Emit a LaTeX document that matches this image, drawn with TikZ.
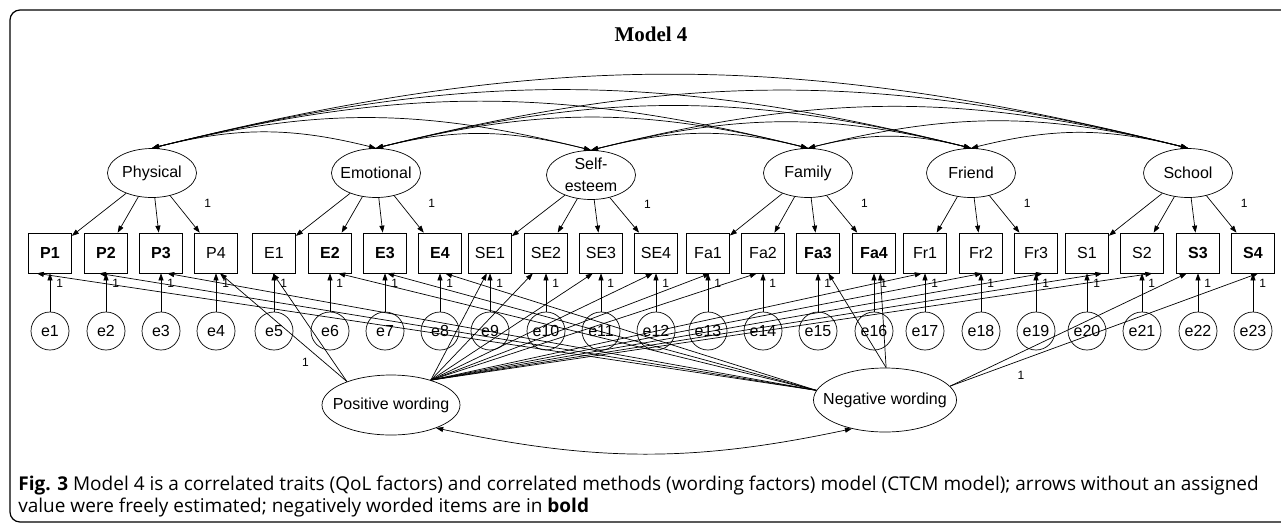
\documentclass[tikz,border=0pt]{standalone}
\usepackage{fontspec}
\setmainfont{Liberation Sans}
\newfontfamily\titlefont{Liberation Serif}
\newfontfamily\capfont{Open Sans}
\usetikzlibrary{arrows.meta, shapes.geometric, positioning}

\begin{document}
\begin{tikzpicture}[
        x=1pt, y=-1pt, line width=0.7pt,
        >={Triangle[length=7pt,width=5pt]},
        font=\fontsize{16}{19}\selectfont,
        latent/.style={ellipse, draw, minimum width=89pt, minimum height=49pt, inner xsep=-8pt, inner ysep=0pt},
        method/.style={ellipse, draw, inner xsep=-12pt, inner ysep=0pt},
        positem/.style={rectangle, draw, minimum width=43pt, minimum height=40pt, inner sep=0pt},
        negitem/.style={positem, font=\fontsize{16}{19}\selectfont\bfseries},
        err/.style={circle, draw, minimum size=38pt, inner sep=0pt},
        lbl/.style={font=\fontsize{12}{12}\selectfont, inner sep=1pt},
        capt/.style={anchor=base west, inner sep=0pt, font=\capfont\fontsize{19}{22}\selectfont},
        ]
        \path[use as bounding box] (0,0) rectangle (1281,525);
        \draw[line width=1.2pt, rounded corners=10pt] (10,10) rectangle (1300,522);

        \node[font=\titlefont\bfseries\fontsize{21}{24}\selectfont] (title) at (651,34) {Model 4};

        % traits
        \node[latent] (phys) at (152,173) {Physical};
        \node[latent] (emo)  at (376,173) {Emotional};
        \node[latent, align=center, font=\fontsize{16}{22}\selectfont] (self) at (591,175) {Self-\\esteem};
        \node[latent] (fam)  at (808,173) {Family};
        \node[latent] (fri)  at (971,173) {Friend};
        \node[latent] (sch)  at (1188,173) {School};

        % items and their errors (1 = negatively worded)
        \foreach \n/\x/\b [count=\i] in {P1/50/1, P2/106/1, P3/161/1, P4/216/0,
                E1/274/0, E2/330/1, E3/385/1, E4/440/1,
                SE1/490/0, SE2/546/0, SE3/601/0, SE4/656/0,
                Fa1/708/0, Fa2/763/0, Fa3/818/1, Fa4/874/1,
                Fr1/925/0, Fr2/981/0, Fr3/1036/0,
                S1/1087/0, S2/1142/0, S3/1198/1, S4/1253/1}{
            \ifnum\b=1 \node[negitem] (\n) at (\x,253) {\n};
            \else \node[positem] (\n) at (\x,253) {\n};
            \fi
            \node[err] (e\i) at (\x,331) {e\i};
            \draw[->] (e\i) -- node[lbl, pos=0.74, right=5pt] {1} (\n);
        }

        % methods
        \node[method, minimum width=138pt, minimum height=60pt] (posw) at (391,405) {Positive wording};
        \node[method, minimum width=143pt, minimum height=64pt] (negw) at (885,400) {Negative wording};

        \path[->] (phys) edge (P1) edge (P2) edge (P3) edge node[lbl, pos=0.2, right=27pt] {1} (P4)
        (emo) edge (E1) edge (E2) edge (E3) edge node[lbl, pos=0.2, right=27pt] {1} (E4)
        (self) edge (SE1) edge (SE2) edge (SE3) edge node[lbl, pos=0.2, right=27pt] {1} (SE4)
        (fam) edge (Fa1) edge (Fa2) edge (Fa3) edge node[lbl, pos=0.2, right=27pt] {1} (Fa4)
        (fri) edge (Fr1) edge (Fr2) edge node[lbl, pos=0.2, right=27pt] {1} (Fr3)
        (sch) edge (S1) edge (S2) edge (S3) edge node[lbl, pos=0.2, right=27pt] {1} (S4);

        \path[->] (posw.152) edge node[lbl, pos=0.18, left=14pt] {1} (P4.-79) edge (E1.-93)
        (posw.32) edge (SE1.-99) edge (SE2.-123) edge (SE3.-112) edge (SE4.-99)
        edge (Fa1.-84) edge (Fa2.-107) edge (Fr1.-99) edge (Fr2.-87) edge (Fr3.-71)
        edge (S1.-53) edge (S2.-63);

        \path[->] (negw.172) edge (P1.-123) edge (P2.-109) edge (P3.-73)
        edge (E2.-68) edge (E3.-84) edge (E4.-76)
        (negw.88) edge (Fa3.-63) edge (Fa4.-73)
        (negw.12) edge (S3.-119) edge node[lbl, pos=0.23, below=10pt] {1} (S4.-76);

        % correlations (arcs, \d = distance between the traits)
        \foreach \a/\c/\d in {phys/emo/224, phys/self/439, phys/fam/656, phys/fri/819, phys/sch/1036,
                emo/self/215, emo/fam/432, emo/fri/595, emo/sch/812,
                self/fam/217, self/fri/380, self/sch/597,
                fam/fri/163, fam/sch/380, fri/sch/217}{
            \pgfmathsetmacro\len{0.3915*\d}
            \draw[<->] (\a.north) .. controls +(14:\len pt) and +(166:\len pt) .. (\c.north);
        }
        \draw[<->] (posw.-27) .. controls +(-12:163pt) and +(192:163pt) .. (negw.-139);

        \node[capt] (cap1) at (18,490) {\textbf{Fig. 3} Model 4 is a correlated traits (QoL factors) and correlated methods (wording factors) model (CTCM model); arrows without an assigned};
        \node[capt] (cap2) at (18,512) {value were freely estimated; negatively worded items are in \textbf{bold}};
\end{tikzpicture}
\end{document}
